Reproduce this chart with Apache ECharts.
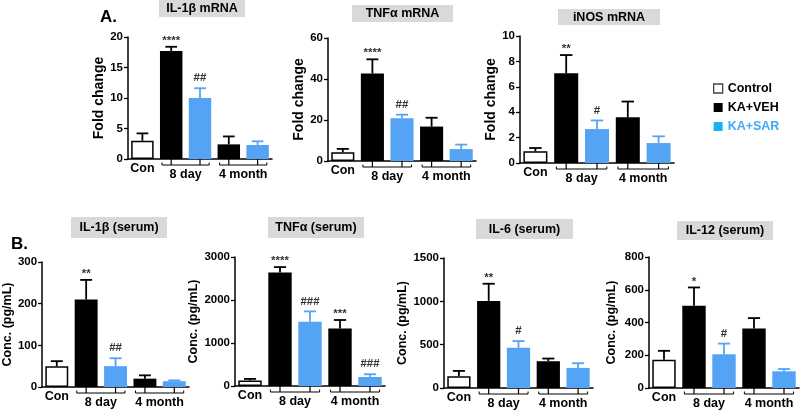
<!DOCTYPE html>
<html>
<head>
<meta charset="utf-8">
<script src="https://cdn.jsdelivr.net/npm/echarts@6/dist/echarts.min.js"></script>
<style>html,body{margin:0;padding:0;background:#fff;}#c{width:800px;height:410px;}</style>
</head>
<body>
<div id="c"></div>
<script>
// ---------- data ----------
const categories = ['Con', '8 day KA+VEH', '8 day KA+SAR', '4 month KA+VEH', '4 month KA+SAR'];
const treatment = ['Control', 'KA+VEH', 'KA+SAR', 'KA+VEH', 'KA+SAR'];
const groupLabels = ['Con', '8 day', '4 month'];
const groupStart = [0, 1, 3];
const groupEnd = [0, 2, 4];
const legendNames = ['Control', 'KA+VEH', 'KA+SAR'];

const panelTitles = ['IL-1β mRNA', 'TNFα mRNA', 'iNOS mRNA', 'IL-1β (serum)', 'TNFα (serum)', 'IL-6 (serum)', 'IL-12 (serum)'];
const yNames = ['Fold change', 'Fold change', 'Fold change', 'Conc. (pg/mL)', 'Conc. (pg/mL)', 'Conc. (pg/mL)', 'Conc. (pg/mL)'];
const yMax = [20, 60, 10, 300, 3000, 1500, 800];
const yStep = [5, 20, 2, 100, 1000, 500, 200];

const il1bMrnaMean = [3.0, 17.7, 10.0, 2.4, 2.3];
const il1bMrnaErr  = [1.2, 0.7, 1.6, 1.3, 0.6];
const il1bMrnaSig  = ['', '****', '##', '', ''];

const tnfMrnaMean = [4.3, 42.7, 20.8, 16.8, 5.8];
const tnfMrnaErr  = [1.6, 6.9, 1.8, 4.3, 2.2];
const tnfMrnaSig  = ['', '****', '##', '', ''];

const inosMrnaMean = [0.92, 7.07, 2.67, 3.6, 1.57];
const inosMrnaErr  = [0.26, 1.43, 0.68, 1.24, 0.53];
const inosMrnaSig  = ['', '**', '#', '', ''];

const il1bSerumMean = [50, 210, 50, 20, 14];
const il1bSerumErr  = [12, 47, 19, 8, 2];
const il1bSerumSig  = ['', '**', '##', '', ''];

const tnfSerumMean = [130, 2640, 1495, 1340, 210];
const tnfSerumErr  = [35, 125, 240, 195, 63];
const tnfSerumSig  = ['', '****', '###', '***', '###'];

const il6SerumMean = [135, 1005, 464, 309, 232];
const il6SerumErr  = [62, 198, 77, 31, 54];
const il6SerumSig  = ['', '**', '#', '', ''];

const il12SerumMean = [173, 502, 206, 363, 102];
const il12SerumErr  = [54, 112, 65, 64, 14];
const il12SerumSig  = ['', '*', '#', '', ''];

const means = [il1bMrnaMean, tnfMrnaMean, inosMrnaMean, il1bSerumMean, tnfSerumMean, il6SerumMean, il12SerumMean];
const errs  = [il1bMrnaErr, tnfMrnaErr, inosMrnaErr, il1bSerumErr, tnfSerumErr, il6SerumErr, il12SerumErr];
const sigs  = [il1bMrnaSig, tnfMrnaSig, inosMrnaSig, il1bSerumSig, tnfSerumSig, il6SerumSig, il12SerumSig];

// ---------- layout / style ----------
const FONT = '"Liberation Sans", Arial, sans-serif';
const BLUE = '#55a3f5';
const colorOf = { 'Control': '#ffffff', 'KA+VEH': '#000000', 'KA+SAR': BLUE };
const errColorOf = { 'Control': '#000000', 'KA+VEH': '#000000', 'KA+SAR': BLUE };
const grids = [
  { left: 128, top: 37, width: 144, height: 122 },
  { left: 328, top: 38, width: 148, height: 123 },
  { left: 520, top: 36, width: 154, height: 127 },
  { left: 41, top: 262, width: 148, height: 125 },
  { left: 235, top: 257, width: 150, height: 129 },
  { left: 444, top: 258, width: 149, height: 130 },
  { left: 649, top: 257, width: 150, height: 131 }
];
const nameGaps = [22, 18, 19, 26, 34, 29, 31];
const nameSizes = [14, 14, 14, 12.5, 12.5, 12.5, 12.5];
const titleBoxes = [
  [159, 0, 86, 17], [352, 5, 101, 17], [558, 9, 102, 16],
  [71, 217, 96, 21], [268, 217, 96, 21], [476, 219, 97, 20], [677, 221, 96, 19]
];

const xAxes = [], yAxes = [], series = [], graphics = [];
grids.forEach((g, p) => {
  xAxes.push({
    type: 'category', gridIndex: p, data: categories,
    axisLine: { lineStyle: { color: '#000', width: 1.5 } },
    axisTick: { alignWithLabel: true, length: 3, lineStyle: { color: '#000', width: 1.3 } },
    axisLabel: { show: false }
  });
  yAxes.push({
    type: 'value', gridIndex: p, min: 0, max: yMax[p], interval: yStep[p],
    splitLine: { show: false },
    axisLine: { show: true, lineStyle: { color: '#000', width: 1.5 } },
    axisTick: { show: true, length: 4, lineStyle: { color: '#000', width: 1.3 } },
    axisLabel: { color: '#000', fontWeight: 'bold', fontSize: 11.5, fontFamily: FONT, margin: 5,
      formatter: v => String(v) },
    name: yNames[p], nameLocation: 'middle', nameRotate: 90, nameGap: nameGaps[p],
    nameTextStyle: { color: '#000', fontWeight: 'bold', fontSize: nameSizes[p], fontFamily: FONT }
  });
  legendNames.forEach(nm => {
    series.push({
      type: 'bar', name: nm, xAxisIndex: p, yAxisIndex: p, stack: 's' + p,
      barCategoryGap: '22%',
      itemStyle: nm === 'Control'
        ? { color: '#fff', borderColor: '#000', borderWidth: 1.5 }
        : { color: colorOf[nm] },
      data: means[p].map((v, i) => treatment[i] === nm ? v : '-')
    });
  });
  // error bars + significance marks
  series.push({
    type: 'custom', xAxisIndex: p, yAxisIndex: p, clip: false, z: 5,
    data: means[p].map((v, i) => [i, v, errs[p][i]]),
    encode: { x: 0, y: [1, 2] },
    renderItem: function (params, api) {
      const i = params.dataIndex;
      const m = api.value(1), e = api.value(2);
      const b = api.coord([i, m]);
      const t = api.coord([i, m + e]);
      const bw = api.size([1, 0])[0] * 0.78;
      const cap = bw * 0.26;
      const col = errColorOf[treatment[i]];
      const s = sigs[p][i];
      const kids = [
        { type: 'line', shape: { x1: b[0], y1: b[1], x2: t[0], y2: t[1] }, style: { stroke: col, lineWidth: 1.8 } },
        { type: 'line', shape: { x1: t[0] - cap, y1: t[1], x2: t[0] + cap, y2: t[1] }, style: { stroke: col, lineWidth: 1.8 } }
      ];
      if (s) {
        const isStar = s.indexOf('*') >= 0;
        kids.push({ type: 'text', style: {
          x: t[0], y: t[1] - (isStar ? 6 : 10), text: s, align: 'center', verticalAlign: 'middle',
          fill: '#333', font: 'bold 11.5px ' + FONT } });
      }
      return { type: 'group', children: kids };
    }
  });
  // group brackets + x labels
  series.push({
    type: 'custom', xAxisIndex: p, yAxisIndex: p, clip: false, silent: true,
    data: groupStart.map((s, k) => [s, groupEnd[k], 0]),
    encode: { x: [0, 1], y: 2 },
    renderItem: function (params, api) {
      const k = params.dataIndex;
      const s = api.value(0), e = api.value(1);
      const ps = api.coord([s, 0]), pe = api.coord([e, 0]);
      const slot = api.size([1, 0])[0];
      const y0 = ps[1];
      const kids = [];
      if (s === e) {
        kids.push({ type: 'text', style: { x: ps[0], y: y0 + 10, text: groupLabels[k], align: 'center', verticalAlign: 'middle', fill: '#000', font: 'bold 12.5px ' + FONT } });
      } else {
        const off = slot * 0.32;
        const yb = y0 + 6;
        kids.push({ type: 'polyline', shape: { points: [[ps[0] - off, yb - 2.5], [ps[0] - off, yb], [pe[0] + off, yb], [pe[0] + off, yb - 2.5]] }, style: { stroke: '#000', lineWidth: 1, fill: null } });
        for (let j = s; j <= e; j++) {
          const pj = api.coord([j, 0]);
          kids.push({ type: 'line', shape: { x1: pj[0], y1: y0, x2: pj[0], y2: yb }, style: { stroke: '#000', lineWidth: 1.2 } });
        }
        kids.push({ type: 'text', style: { x: (ps[0] + pe[0]) / 2, y: y0 + 16, text: groupLabels[k], align: 'center', verticalAlign: 'middle', fill: '#000', font: 'bold 12.5px ' + FONT } });
      }
      return { type: 'group', children: kids };
    }
  });
  const tb = titleBoxes[p];
  graphics.push({ type: 'rect', shape: { x: tb[0], y: tb[1], width: tb[2], height: tb[3] }, style: { fill: '#d9d9d9' }, silent: true });
  graphics.push({ type: 'text', x: tb[0] + tb[2] / 2, y: tb[1] + tb[3] / 2 + 0.5, style: { text: panelTitles[p], align: 'center', verticalAlign: 'middle', fill: '#000', font: 'bold 12.5px ' + FONT }, silent: true });
});
graphics.push({ type: 'text', x: 100, y: 9, style: { text: 'A.', fill: '#000', font: 'bold 17px ' + FONT }, silent: true });
graphics.push({ type: 'text', x: 11, y: 236, style: { text: 'B.', fill: '#000', font: 'bold 17px ' + FONT }, silent: true });

const chart = echarts.init(document.getElementById('c'), null, { renderer: 'canvas' });
chart.setOption({
  animation: false,
  backgroundColor: '#fff',
  grid: grids,
  xAxis: xAxes,
  yAxis: yAxes,
  series: series,
  legend: {
    orient: 'vertical', left: 708, top: 77, itemWidth: 9, itemHeight: 9, itemGap: 6,
    selectedMode: false, icon: 'rect',
    textStyle: { color: '#000', fontWeight: 'bold', fontSize: 12.5, fontFamily: FONT },
    data: [
      { name: 'Control', itemStyle: { color: '#fff', borderColor: '#444', borderWidth: 1.3 } },
      { name: 'KA+VEH', itemStyle: { color: '#000' } },
      { name: 'KA+SAR', itemStyle: { color: '#1ab0f5' }, textStyle: { color: '#3fa9f5' } }
    ]
  },
  graphic: graphics
});
</script>
</body>
</html>
